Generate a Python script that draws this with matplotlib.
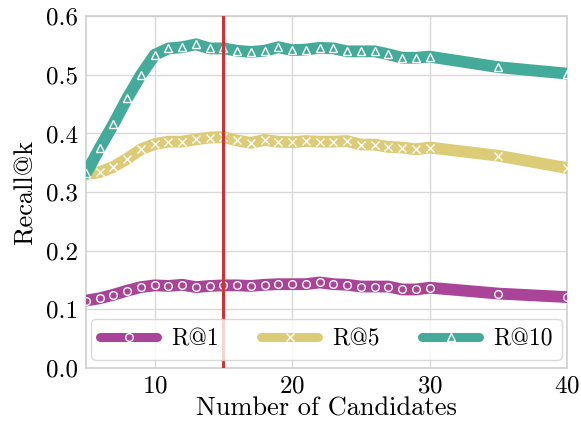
import numpy as np
import matplotlib
matplotlib.use("Agg")
import matplotlib.pyplot as plt

plt.rcParams['font.family'] = 'serif'
plt.rcParams['font.serif'] = ['cmr10']
plt.rcParams['mathtext.fontset'] = 'cm'
plt.rcParams['axes.formatter.use_mathtext'] = True
plt.rcParams['axes.unicode_minus'] = False

candidates = [5, 6, 7, 8, 9, 10, 11, 12, 13, 14, 15, 16, 17, 18, 19, 20,
              21, 22, 23, 24, 25, 26, 27, 28, 29, 30, 35, 40]

r1 = [0.115, 0.119, 0.125, 0.132, 0.138, 0.141, 0.140, 0.142, 0.138, 0.140,
      0.141, 0.141, 0.140, 0.142, 0.143, 0.143, 0.143, 0.146, 0.143, 0.142,
      0.139, 0.139, 0.139, 0.134, 0.134, 0.137, 0.127, 0.121]

r5 = [0.330, 0.334, 0.343, 0.357, 0.373, 0.382, 0.386, 0.386, 0.390, 0.393,
      0.394, 0.388, 0.384, 0.389, 0.386, 0.385, 0.387, 0.386, 0.386, 0.387,
      0.381, 0.381, 0.377, 0.376, 0.373, 0.376, 0.362, 0.341]

r10 = [0.332, 0.375, 0.416, 0.460, 0.500, 0.534, 0.545, 0.547, 0.552, 0.545,
       0.545, 0.541, 0.539, 0.541, 0.547, 0.542, 0.543, 0.546, 0.545, 0.540,
       0.540, 0.540, 0.535, 0.529, 0.529, 0.531, 0.513, 0.502]

chosen = 15

fig, ax = plt.subplots(figsize=(5.81, 4.25), dpi=100)
fig.subplots_adjust(left=0.148, right=0.976, bottom=0.134, top=0.962)

series = [(r1, 'R@1', '#aa4499', 'o'),
          (r5, 'R@5', '#ddcc77', 'x'),
          (r10, 'R@10', '#44aa99', '^')]

for vals, name, col, mk in series:
    ax.plot(candidates, vals, color=col, lw=8.5, label=name, marker=mk,
            markersize=5.5, markerfacecolor='none', markeredgecolor='white',
            markeredgewidth=1.0, solid_capstyle='round', zorder=3)

ax.axvline(chosen, color='#cc3333', lw=2.2, zorder=4)

ax.set_xlim(5, 40)
ax.set_ylim(0, 0.6)
ax.set_xticks([10, 20, 30, 40])
ax.set_yticks([0.0, 0.1, 0.2, 0.3, 0.4, 0.5, 0.6])
ax.set_yticklabels(['0.0', '0.1', '0.2', '0.3', '0.4', '0.5', '0.6'])
ax.grid(True, color='#d9d9d9', lw=1.0, zorder=0)
ax.set_axisbelow(True)
for s in ax.spines.values():
    s.set_color('#d0d0d0')
    s.set_linewidth(1.2)
ax.tick_params(axis='x', length=0, labelsize=18, pad=5)
ax.tick_params(axis='y', length=0, labelsize=18, pad=6)
ax.set_xlabel('Number of Candidates', fontsize=19, labelpad=0)
ax.set_ylabel('Recall@k', fontsize=19, labelpad=6)

leg = ax.legend(loc='lower center', ncol=3, fontsize=17,
                handlelength=2.4, handletextpad=0.6, columnspacing=1.8,
                borderpad=0.4, borderaxespad=0.35, framealpha=0.8,
                edgecolor='#d0d0d0')
leg.set_zorder(5)
for line in leg.get_lines():
    line.set_linewidth(6.5)

fig.savefig('out.png', dpi=100)
